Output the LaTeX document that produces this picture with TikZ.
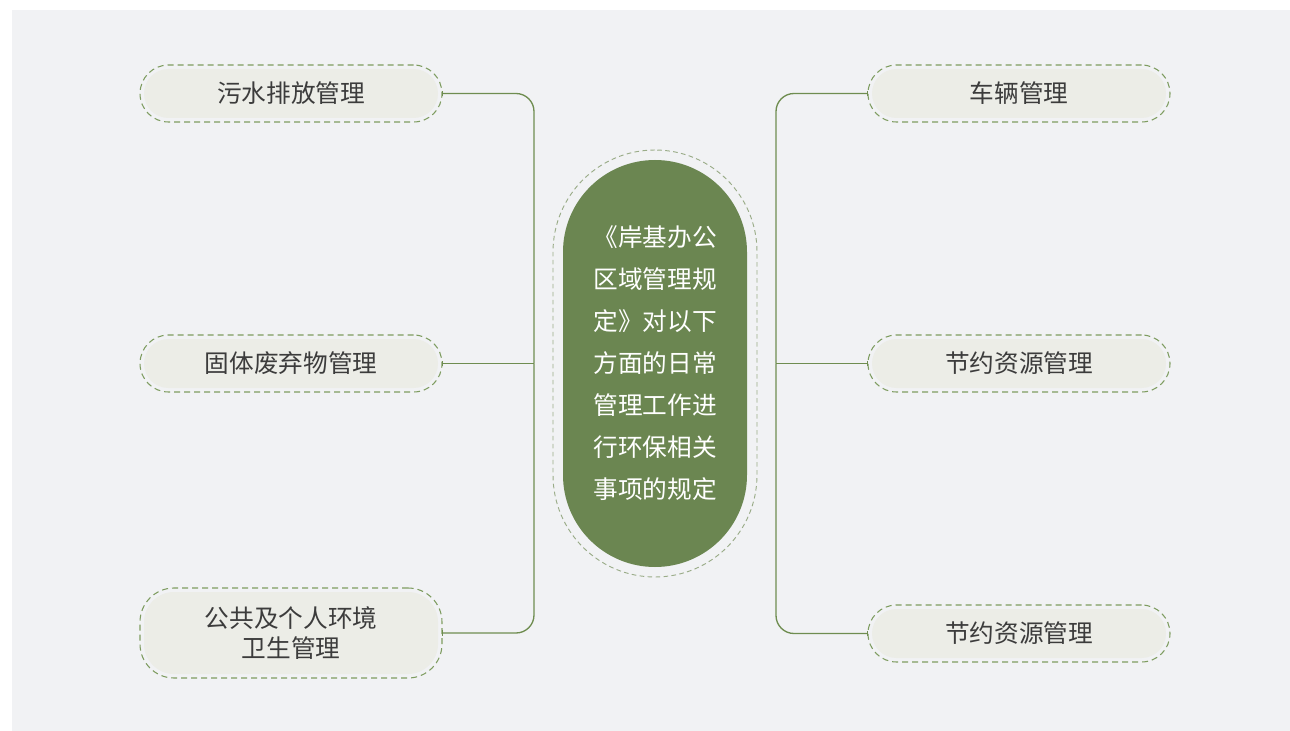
\documentclass[tikz,border=0pt]{standalone}
\usepackage{fontspec}
\setmainfont{Noto Sans CJK SC}
\usetikzlibrary{fit,arrows.meta,calc}

\definecolor{bggray}{HTML}{F1F2F4}
\definecolor{leaffill}{HTML}{ECEDE7}
\definecolor{ringgreen}{HTML}{7E9C60}
\definecolor{linkgreen}{HTML}{6F8D50}
\definecolor{hubfill}{HTML}{6B8651}
\definecolor{hubring}{HTML}{9AAC88}
\definecolor{leaftext}{HTML}{3C3C3C}

\tikzset{
  leaf/.style={rectangle, rounded corners=18.375pt, fill=leaffill, text=leaftext,
    minimum width=220.5pt, minimum height=36.75pt, inner sep=0pt, outer sep=0pt,
    font=\fontsize{18.5pt}{23pt}\selectfont, align=center},
  ring/.style={rectangle, rounded corners=21.375pt, draw=ringgreen, line width=0.8pt,
    dash pattern={on 4.5pt off 3pt}, inner sep=3pt, outer sep=0pt},
  hub/.style={rectangle, rounded corners=69pt, fill=hubfill, text=white,
    minimum width=138pt, minimum height=305.25pt, inner sep=0pt, outer sep=0pt,
    font=\fontsize{18.5pt}{31.5pt}\selectfont, align=center},
  hubring/.style={rectangle, rounded corners=76.5pt, draw=hubring, line width=0.7pt,
    dash pattern={on 3.5pt off 2.5pt}, inner sep=7.5pt, outer sep=0pt},
  link/.style={draw=linkgreen, line width=1pt, rounded corners=13.5pt},
  tick/.style={{Bar[width=4pt,line width=0.8pt]}-}
}

\begin{document}
\begin{tikzpicture}[x=0.75pt,y=0.75pt,yscale=-1,xscale=1]
\useasboundingbox (0,0) rectangle (1290,731);
% background
\fill[bggray] (12,10) rectangle (1290,731);

% centre
\node[hub] (hub) at (655,363.5) {《岸基办公\\区域管理规\\定》对以下\\方面的日常\\管理工作进\\行环保相关\\事项的规定};
\node[hubring, fit=(hub)] (hubo) {};

% left leaves
\node[leaf] (l1) at (291,93.5) {污水排放管理};
\node[leaf] (l2) at (291,363.5) {固体废弃物管理};
\node[leaf, minimum height=61.5pt, rounded corners=22.5pt] (l3) at (291,633) {公共及个人环境\\卫生管理};
\node[ring, fit=(l1)] (l1o) {};
\node[ring, fit=(l2)] (l2o) {};
\node[ring, fit=(l3), rounded corners=25.5pt] (l3o) {};

% right leaves
\node[leaf] (r1) at (1019,93.5) {车辆管理};
\node[leaf] (r2) at (1019,363.5) {节约资源管理};
\node[leaf] (r3) at (1019,633.5) {节约资源管理};
\node[ring, fit=(r1)] (r1o) {};
\node[ring, fit=(r2)] (r2o) {};
\node[ring, fit=(r3)] (r3o) {};

% trunks
\coordinate (hubL) at ($(hubo.west)+(-19,0)$);
\coordinate (hubR) at ($(hubo.east)+(19,0)$);

% connectors
\draw[link, tick] (l1o.east) -| (hubL);
\draw[link, tick] (l3o.east) -| (hubL);
\draw[link, tick] (l2o.east) -- (hubL);
\draw[link, tick] (r1o.west) -| (hubR);
\draw[link, tick] (r3o.west) -| (hubR);
\draw[link, tick] (r2o.west) -- (hubR);
\end{tikzpicture}
\end{document}
